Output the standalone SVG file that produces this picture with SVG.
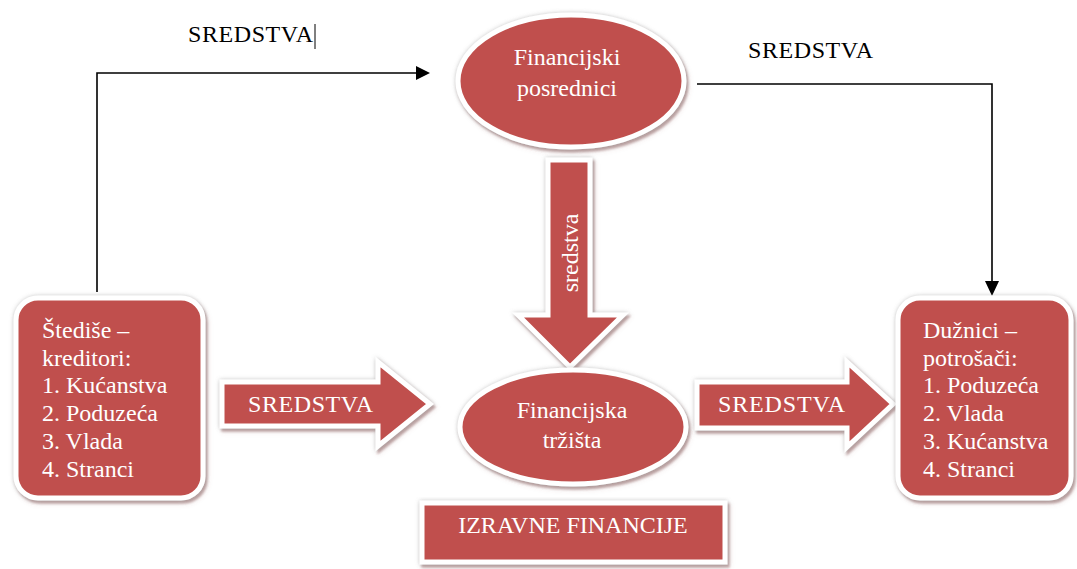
<svg xmlns="http://www.w3.org/2000/svg" width="1077" height="569" viewBox="0 0 1077 569">
<style>
.shape{fill:#C0504D;stroke:#ffffff;stroke-width:5;filter:url(#sh)}
.in{font-family:"Liberation Serif","Times New Roman",serif;font-size:24px;fill:#ffffff}
.out{font-family:"Liberation Serif","Times New Roman",serif;font-size:24px;fill:#000000}
.mid{text-anchor:middle}
.line{fill:none;stroke:#000;stroke-width:1.6}
</style>
<defs>
<filter id="sh" x="-10%" y="-10%" width="125%" height="125%">
<feDropShadow dx="0" dy="0" stdDeviation="2.2" flood-color="#888888" flood-opacity="0.45"/>
<feDropShadow dx="2" dy="3" stdDeviation="1" flood-color="#8b5a5a" flood-opacity="0.55"/>
</filter>
</defs>
<rect width="1077" height="569" fill="#ffffff"/>

<g id="connectors">
<path d="M97,292 L97,73 L416,73" class="line"/>
<path d="M416,66 L430,73 L416,80 z" fill="#000"/>
<path d="M697,84 L992,84 L992,282" class="line"/>
<path d="M985,281 L992,296 L999,281 z" fill="#000"/>
<text class="out" x="188" y="42" textLength="125">SREDSTVA</text>
<line x1="315" y1="24" x2="315" y2="49" stroke="#000" stroke-width="1"/>
<text class="out" x="748" y="58" textLength="125">SREDSTVA</text>

<g id="arrow-left">
<polygon class="shape" points="222,382 378,382 378,362 430,404 378,446 378,426 222,426"/>
<text class="in" x="248" y="412" textLength="125">SREDSTVA</text>
</g>
<g id="arrow-right">
<polygon class="shape" points="697,382 847,382 847,362 893,404 847,447 847,428 697,428"/>
<text class="in" x="718" y="412" textLength="127">SREDSTVA</text>
</g>
<g id="arrow-down">
<polygon class="shape" points="548,160 590,160 590,315 623,315 570,367 518,315 548,315"/>
<text class="in mid" transform="translate(578,253) rotate(-90)">sredstva</text>
</g>
</g>

<g id="node-stedise">
<rect class="shape" x="16" y="298" width="187" height="200" rx="22" ry="22"/>
<text class="in" x="42" y="338">Štediše –</text>
<text class="in" x="42" y="366">kreditori:</text>
<text class="in" x="42" y="393">1. Kućanstva</text>
<text class="in" x="42" y="421">2. Poduzeća</text>
<text class="in" x="42" y="449">3. Vlada</text>
<text class="in" x="42" y="477">4. Stranci</text>
</g>

<g id="node-duznici">
<rect class="shape" x="898" y="298" width="173" height="200" rx="22" ry="22"/>
<text class="in" x="923" y="338">Dužnici –</text>
<text class="in" x="923" y="366">potrošači:</text>
<text class="in" x="923" y="393">1. Poduzeća</text>
<text class="in" x="923" y="421">2. Vlada</text>
<text class="in" x="923" y="449">3. Kućanstva</text>
<text class="in" x="923" y="477">4. Stranci</text>
</g>

<g id="node-posrednici">
<ellipse class="shape" cx="571" cy="81" rx="113" ry="66"/>
<text class="in mid" x="567" y="65">Financijski</text>
<text class="in mid" x="567" y="96">posrednici</text>
</g>

<g id="node-trzista">
<ellipse class="shape" cx="573" cy="427" rx="113" ry="57"/>
<text class="in mid" x="572" y="418">Financijska</text>
<text class="in mid" x="572" y="448">tržišta</text>
</g>

<g id="node-izravne">
<rect class="shape" x="422" y="503" width="303" height="59"/>
<text class="in mid" x="573" y="533">IZRAVNE FINANCIJE</text>
</g>
</svg>
